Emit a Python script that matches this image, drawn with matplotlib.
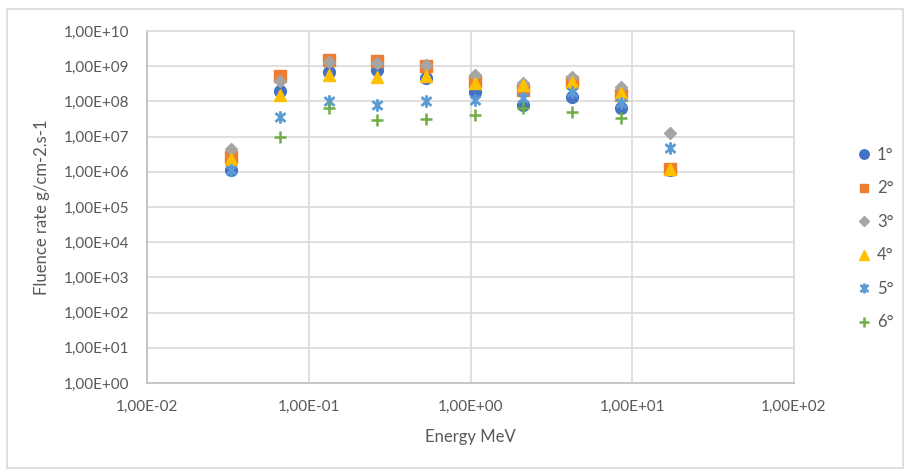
import numpy as np
import matplotlib.pyplot as plt
from matplotlib.path import Path
from matplotlib.patches import Rectangle
from matplotlib.ticker import FixedLocator, FuncFormatter, NullLocator

plt.rcParams['font.family'] = ['Lato', 'DejaVu Sans']

# energy bins (MeV)
energy = [0.0332, 0.0664, 0.133, 0.265, 0.53, 1.06, 2.12, 4.25, 8.5, 17.0]

# fluence rate per series (nan = no point shown)
s1 = [1.15e6, 2.0e8, 6.9e8, 7.8e8, 4.6e8, 1.9e8, 7.9e7, 1.35e8, 6.5e7, 1.1e6]
s2 = [2.6e6, 5.3e8, 1.5e9, 1.45e9, 1.0e9, 3.8e8, 2.1e8, 3.5e8, 1.5e8, 1.2e6]
s3 = [4.4e6, 3.8e8, 1.3e9, 1.25e9, 1.07e9, 5.6e8, 3.3e8, 4.9e8, 2.6e8, 1.26e7]
s4 = [2.3e6, 1.5e8, 5.6e8, 4.9e8, 5.3e8, 3.3e8, 2.9e8, 3.6e8, 1.7e8, 1.2e6]
s5 = [1.15e6, 3.6e7, 1.05e8, 7.9e7, 1.02e8, 1.1e8, 1.25e8, 1.9e8, 9.0e7, 4.7e6]
s6 = [np.nan, 9.8e6, 6.5e7, 3.0e7, 3.2e7, 4.1e7, 6.5e7, 5.0e7, 3.4e7, np.nan]

labels = ['1°', '2°', '3°', '4°', '5°', '6°']
series = [s1, s2, s3, s4, s5, s6]

star = Path([(0, -1), (0, 1), (-0.8, -0.7), (0.8, 0.7), (-0.8, 0.7), (0.8, -0.7)],
            [Path.MOVETO, Path.LINETO, Path.MOVETO, Path.LINETO, Path.MOVETO, Path.LINETO])

styles = [
    dict(marker='o', color='#4472C4', ms=8.5),
    dict(marker='s', color='#ED7D31', ms=8),
    dict(marker='D', color='#A5A5A5', ms=6.5),
    dict(marker='^', color='#FFC000', ms=9),
    dict(marker=star, color='#5B9BD5', ms=9, mew=2, fillstyle='none'),
    dict(marker='+', color='#70AD47', ms=9, mew=1.8),
]

fig = plt.figure(figsize=(9.09, 4.69), dpi=100)
ax = fig.add_axes([147 / 909, 1 - 383 / 469, (794 - 147) / 909, (383 - 31) / 469])

for y, lab, st in zip(series, labels, styles):
    ax.plot(energy, y, linestyle='none', label=lab, **st)

ax.set_xscale('log')
ax.set_yscale('log')
ax.set_xlim(1e-2, 1e2)
ax.set_ylim(1, 1e10)

ax.xaxis.set_major_locator(FixedLocator([10.0 ** e for e in range(-2, 3)]))
ax.yaxis.set_major_locator(FixedLocator([10.0 ** e for e in range(0, 11)]))
ax.xaxis.set_minor_locator(NullLocator())
ax.yaxis.set_minor_locator(NullLocator())
fmt = FuncFormatter(lambda v, p: '1,00E%+03d' % int(round(np.log10(v))))
ax.xaxis.set_major_formatter(fmt)
ax.yaxis.set_major_formatter(fmt)

ax.tick_params(length=0, labelsize=11, labelcolor='#595959')
ax.tick_params(axis='y', pad=13)
ax.tick_params(axis='x', pad=12)
ax.grid(True, color='#d9d9d9', linewidth=1.2)
ax.set_axisbelow(True)
for s in ax.spines.values():
    s.set_color('#d9d9d9')
    s.set_linewidth(1.2)
ax.spines['left'].set_color('#bfbfbf')
ax.spines['bottom'].set_color('#bfbfbf')

ax.set_xlabel('Energy MeV', fontsize=12, color='#595959', labelpad=11)
ax.set_ylabel('Fluence rate g/cm-2.s-1', fontsize=12, color='#595959', labelpad=10)

leg = ax.legend(loc='center left', bbox_to_anchor=(1.07, 0.41), frameon=False,
                fontsize=12, labelspacing=1.05, handletextpad=0.15,
                handlelength=1.2, markerscale=0.8)
for t in leg.get_texts():
    t.set_color('#595959')

fig.patches.append(Rectangle((7 / 909, 1 / 469), 896 / 909, 459 / 469,
                             transform=fig.transFigure, fill=False,
                             edgecolor='#d9d9d9', linewidth=1.2))

fig.savefig('out.png', dpi=100)
